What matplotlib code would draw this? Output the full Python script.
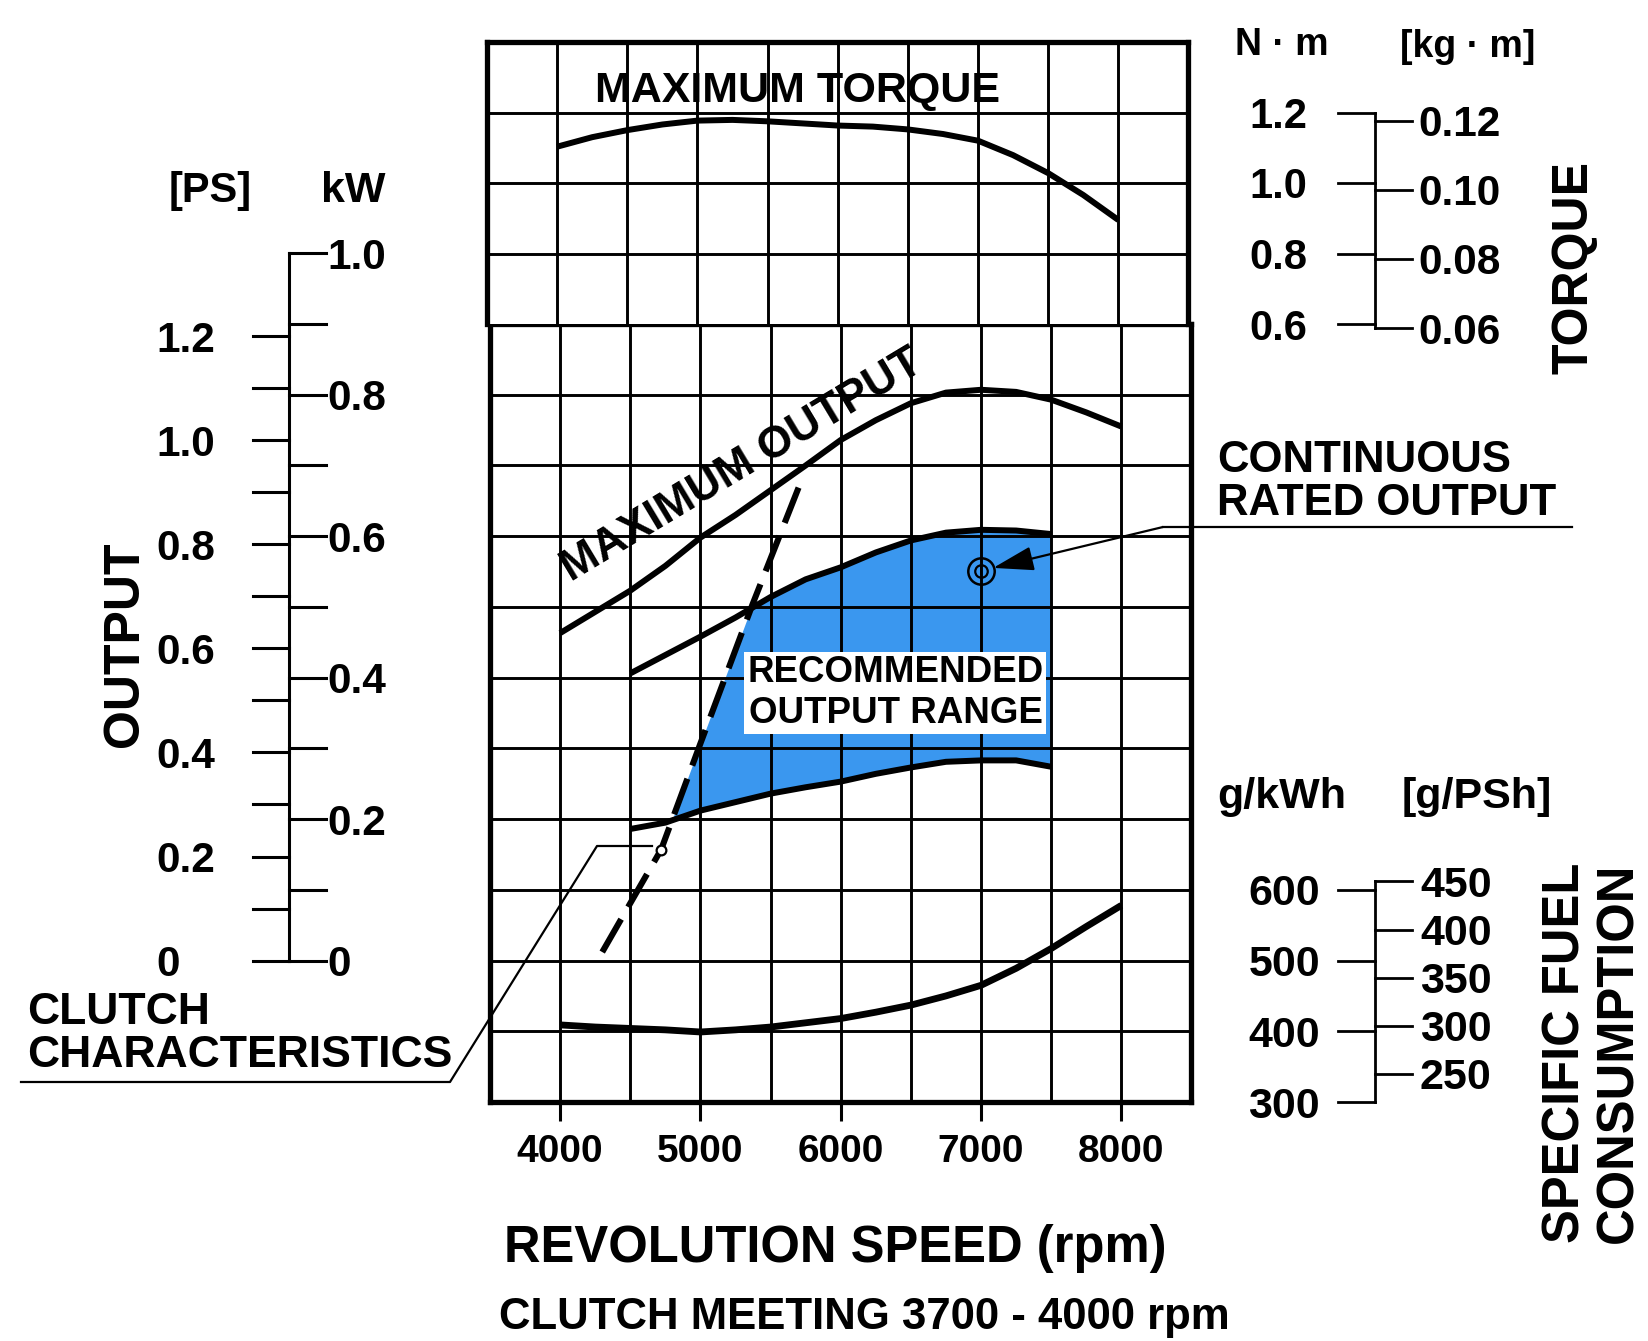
import matplotlib
matplotlib.use("Agg")
import matplotlib.pyplot as plt
import numpy as np
from matplotlib.lines import Line2D
from matplotlib.transforms import blended_transform_factory as blend

plt.rcParams["font.family"] = ["Liberation Sans", "DejaVu Sans"]
plt.rcParams["font.weight"] = "bold"

# ---------------- data ----------------
rpm = [4000, 4250, 4500, 4750, 5000, 5250, 5500, 5750, 6000,
       6250, 6500, 6750, 7000, 7250, 7500, 7750, 8000]
max_torque_nm = [1.103, 1.130, 1.150, 1.166, 1.177, 1.179, 1.175, 1.169, 1.163,
                 1.160, 1.152, 1.139, 1.120, 1.079, 1.028, 0.966, 0.895]
max_output_kw = [0.463, 0.493, 0.523, 0.558, 0.598, 0.630, 0.665, 0.700, 0.736,
                 0.764, 0.788, 0.803, 0.807, 0.804, 0.793, 0.775, 0.755]
fuel_gkwh = [409, 406, 404, 402, 399, 402, 406, 412, 418,
             427, 437, 450, 465, 489, 517, 548, 578]

range_rpm = [4500, 4750, 5000, 5250, 5500, 5750, 6000, 6250, 6500, 6750, 7000, 7250, 7500]
range_upper_kw = [0.406, 0.432, 0.458, 0.485, 0.514, 0.539, 0.556, 0.577, 0.594,
                  0.605, 0.609, 0.608, 0.603]
range_lower_kw = [0.186, 0.195, 0.212, 0.224, 0.236, 0.245, 0.253, 0.264, 0.273,
                  0.281, 0.283, 0.283, 0.274]

clutch_rpm = [4300, 4720, 5000, 5370, 5710]
clutch_kw = [0.012, 0.157, 0.307, 0.503, 0.674]

rated_rpm = 7000
rated_kw = 0.551

x_ticks = [4000, 5000, 6000, 7000, 8000]
ps_ticks = [0.0, 0.1, 0.2, 0.3, 0.4, 0.5, 0.6, 0.7, 0.8, 0.9, 1.0, 1.1, 1.2]
ps_labels = {0.0: "0", 0.2: "0.2", 0.4: "0.4", 0.6: "0.6", 0.8: "0.8", 1.0: "1.0", 1.2: "1.2"}
kw_ticks = [0.0, 0.1, 0.2, 0.3, 0.4, 0.5, 0.6, 0.7, 0.8, 0.9, 1.0]
kw_labels = {0.0: "0", 0.2: "0.2", 0.4: "0.4", 0.6: "0.6", 0.8: "0.8", 1.0: "1.0"}
nm_ticks = [0.6, 0.8, 1.0, 1.2]
kgm_ticks = [0.06, 0.08, 0.10, 0.12]
gkwh_ticks = [300, 400, 500, 600]
gpsh_ticks = [250, 300, 350, 400, 450]

PS_TO_KW = 0.7355
KGM_TO_NM = 9.80665
GPSH_TO_GKWH = 1.0 / 0.7355

# ---------------- layout helpers (pixel -> figure fraction) ----------------
W, H = 1649, 1341
def FX(x):
    return x / W
def FY(y):
    return 1 - y / H

fig = plt.figure(figsize=(W / 100, H / 100), dpi=100)

LEFT, RIGHT = 490, 1191.5
TOP, MID, BOT = 42, 324, 1102
ax = fig.add_axes([FX(LEFT), FY(BOT), FX(RIGHT) - FX(LEFT), FY(MID) - FY(BOT)])
axt = fig.add_axes([FX(LEFT - 3), FY(MID), FX(RIGHT) - FX(LEFT), FY(TOP) - FY(MID)])
axf = ax.twinx()

XLIM = (3500, 8500)
grid_x = np.arange(3500, 8501, 500)
LW_GRID = 2.1
LW_FRAME = 3.8
LW_CURVE = 4.3

# lower (output) axes
ax.set_xlim(*XLIM)
ax.set_ylim(-0.2, 0.9)
ax.set_xticks(x_ticks)
ax.set_xticklabels([str(v) for v in x_ticks], fontsize=28, fontweight="bold")
ax.set_xticks(grid_x, minor=True)
ax.set_yticks(np.arange(-0.2, 0.91, 0.1))
ax.set_yticklabels([])
ax.tick_params(axis="y", length=0)
ax.tick_params(axis="x", which="major", length=14, width=2.2, pad=9, direction="out")
ax.tick_params(axis="x", which="minor", length=0)
ax.grid(True, which="both", color="black", linewidth=LW_GRID)
ax.set_axisbelow(False)
for s in ax.spines.values():
    s.set_linewidth(LW_FRAME)

axf.set_ylim(300, 1400)
axf.set_yticks([])
for s in axf.spines.values():
    s.set_visible(False)

# top (torque) axes
axt.set_xlim(*XLIM)
axt.set_ylim(0.6, 1.4)
axt.set_xticks(grid_x)
axt.set_yticks([0.8, 1.0, 1.2])
axt.set_xticklabels([])
axt.set_yticklabels([])
axt.tick_params(length=0)
axt.grid(True, color="black", linewidth=LW_GRID)
for s in axt.spines.values():
    s.set_linewidth(LW_FRAME)
axt.spines["bottom"].set_visible(False)

# ---------------- curves ----------------
kw_line = dict(color="black", lw=LW_CURVE, solid_joinstyle="round", solid_capstyle="butt", zorder=3)
axt.plot(rpm, max_torque_nm, **kw_line)
ax.plot(rpm, max_output_kw, **kw_line)
ax.plot(range_rpm, range_upper_kw, **kw_line)
ax.plot(range_rpm, range_lower_kw, **kw_line)
axf.plot(rpm, fuel_gkwh, color="black", lw=LW_CURVE + 0.6, solid_joinstyle="round",
         solid_capstyle="butt", zorder=3)

# recommended output range (right of clutch line, between the two curves)
xs = np.linspace(range_rpm[0], range_rpm[-1], 800)
up = np.interp(xs, range_rpm, range_upper_kw)
lo = np.interp(xs, range_rpm, range_lower_kw)
cl = np.interp(xs, clutch_rpm, clutch_kw, right=10.0)
top_fill = np.minimum(up, cl)
ax.fill_between(xs, lo, top_fill, where=top_fill > lo, color="#3a97ef", lw=0, zorder=1)

# clutch characteristics (dashed)
ax.plot(clutch_rpm, clutch_kw, color="black", lw=4.4, dashes=(6.2, 2.3), zorder=3.2)
ax.plot([clutch_rpm[1]], [clutch_kw[1]], "o", ms=7, mfc="white", mec="black", mew=1.6, zorder=4)

# continuous rated output marker
ax.plot([rated_rpm], [rated_kw], "o", ms=19, mfc="none", mec="black", mew=1.8, zorder=4)
ax.plot([rated_rpm], [rated_kw], "o", ms=9, mfc="none", mec="black", mew=1.6, zorder=4)
ax.plot([rated_rpm], [rated_kw], "|", ms=6, mec="black", mew=1.4, zorder=4)

# ---------------- texts in the plot ----------------
axt.text(5711, 1.26, "MAXIMUM TORQUE", ha="center", va="center", fontsize=31, fontweight="bold", zorder=5)
ax.text(5295, 0.700, "MAXIMUM OUTPUT", ha="center", va="center", rotation=31,
        fontsize=32, fontweight="bold", zorder=5)
ax.text(6390, 0.378, "RECOMMENDED\nOUTPUT RANGE", ha="center", va="center", fontsize=26.5,
        fontweight="bold", linespacing=1.22, zorder=5,
        bbox=dict(boxstyle="square,pad=0.08", fc="white", ec="none"))

# ---------------- left output scale ----------------
tl = blend(fig.transFigure, ax.transData)
xs_sp, xs_l, xs_r = FX(289), FX(253), FX(326)
fig.add_artist(Line2D([xs_sp, xs_sp], [0, kw_ticks[-1]], transform=tl, color="black", lw=2.2))
for p in ps_ticks:
    y = p * PS_TO_KW
    fig.add_artist(Line2D([xs_l, xs_sp], [y, y], transform=tl, color="black", lw=2.2))
    if p in ps_labels:
        fig.text(FX(156), y, ps_labels[p], transform=tl, ha="left", va="center_baseline",
                 fontsize=30.5, fontweight="bold")
for k in kw_ticks:
    fig.add_artist(Line2D([xs_sp, xs_r], [k, k], transform=tl, color="black", lw=2.2))
    if k in kw_labels:
        fig.text(FX(327), k, kw_labels[k], transform=tl, ha="left", va="center_baseline",
                 fontsize=30.5, fontweight="bold")
fig.text(FX(210), FY(191), "[PS]", ha="center", va="center", fontsize=30, fontweight="bold")
fig.text(FX(353), FY(191), "kW", ha="center", va="center", fontsize=31, fontweight="bold")
fig.text(FX(125), FY(644), "OUTPUT", ha="center", va="center", rotation=90, fontsize=36, fontweight="bold")

# ---------------- right torque scale ----------------
tt = blend(fig.transFigure, axt.transData)
xr_sp, xr_l, xr_r = FX(1375), FX(1338), FX(1412)
fig.add_artist(Line2D([xr_sp, xr_sp], [kgm_ticks[0] * KGM_TO_NM, nm_ticks[-1]], transform=tt,
                      color="black", lw=2.0))
for n in nm_ticks:
    fig.add_artist(Line2D([xr_l, xr_sp], [n, n], transform=tt, color="black", lw=2.0))
    fig.text(FX(1307), n, f"{n:.1f}", transform=tt, ha="right", va="center_baseline",
             fontsize=30, fontweight="bold")
for g in kgm_ticks:
    y = g * KGM_TO_NM
    fig.add_artist(Line2D([xr_sp, xr_r], [y, y], transform=tt, color="black", lw=2.0))
    fig.text(FX(1418), y, f"{g:.2f}", transform=tt, ha="left", va="center_baseline",
             fontsize=30.5, fontweight="bold")
fig.text(FX(1282), FY(45), "N · m", ha="center", va="center", fontsize=27, fontweight="bold")
fig.text(FX(1468), FY(47), "[kg · m]", ha="center", va="center", fontsize=27, fontweight="bold")
fig.text(FX(1575), FY(268), "TORQUE", ha="center", va="center", rotation=90, fontsize=36, fontweight="bold")

# ---------------- right fuel consumption scale ----------------
tf = blend(fig.transFigure, axf.transData)
fig.add_artist(Line2D([xr_sp, xr_sp], [gkwh_ticks[0], gpsh_ticks[-1] * GPSH_TO_GKWH], transform=tf,
                      color="black", lw=2.0))
for g in gkwh_ticks:
    fig.add_artist(Line2D([xr_l, xr_sp], [g, g], transform=tf, color="black", lw=2.0))
    fig.text(FX(1320), g, f"{g}", transform=tf, ha="right", va="center_baseline",
             fontsize=31, fontweight="bold")
for g in gpsh_ticks:
    y = g * GPSH_TO_GKWH
    fig.add_artist(Line2D([xr_sp, xr_r], [y, y], transform=tf, color="black", lw=2.0))
    fig.text(FX(1420), y, f"{g}", transform=tf, ha="left", va="center_baseline",
             fontsize=31, fontweight="bold")
fig.text(FX(1282), FY(797), "g/kWh", ha="center", va="center", fontsize=31, fontweight="bold")
fig.text(FX(1477), FY(797), "[g/PSh]", ha="center", va="center", fontsize=31, fontweight="bold")
fig.text(FX(1592), FY(1053), "SPECIFIC FUEL\nCONSUMPTION", ha="center", va="center", rotation=90,
         multialignment="left", fontsize=36.5, fontweight="bold", linespacing=1.1)

# ---------------- annotations ----------------
fig.text(FX(1217), FY(482), "CONTINUOUS\nRATED OUTPUT", ha="left", va="center", fontsize=31.5,
         fontweight="bold", linespacing=1.07)
fig.add_artist(Line2D([FX(1163), FX(1572)], [FY(527), FY(527)], transform=fig.transFigure,
                      color="black", lw=1.6))
ax.annotate("", xy=(rated_rpm, rated_kw), xycoords="data",
            xytext=(FX(1163), FY(527)), textcoords="figure fraction",
            arrowprops=dict(arrowstyle="-|>,head_length=1.4,head_width=0.42", color="black",
                            lw=1.6, shrinkA=0, shrinkB=9, mutation_scale=18), zorder=6,
            annotation_clip=False)

fig.text(FX(27), FY(1034), "CLUTCH\nCHARACTERISTICS", ha="left", va="center", fontsize=32,
         fontweight="bold", linespacing=1.07)
fig.add_artist(Line2D([FX(21), FX(450), FX(597), FX(652)],
                      [FY(1082), FY(1082), FY(846), FY(846)],
                      transform=fig.transFigure, color="black", lw=1.6, zorder=6))

# ---------------- axis titles ----------------
fig.text(FX(835), FY(1262), "REVOLUTION SPEED (rpm)", ha="center", va="baseline", fontsize=36.5,
         fontweight="bold")
fig.text(FX(499), FY(1329), "CLUTCH MEETING 3700 - 4000 rpm", ha="left", va="baseline", fontsize=31.5,
         fontweight="bold")

fig.savefig("out.png", dpi=100)
